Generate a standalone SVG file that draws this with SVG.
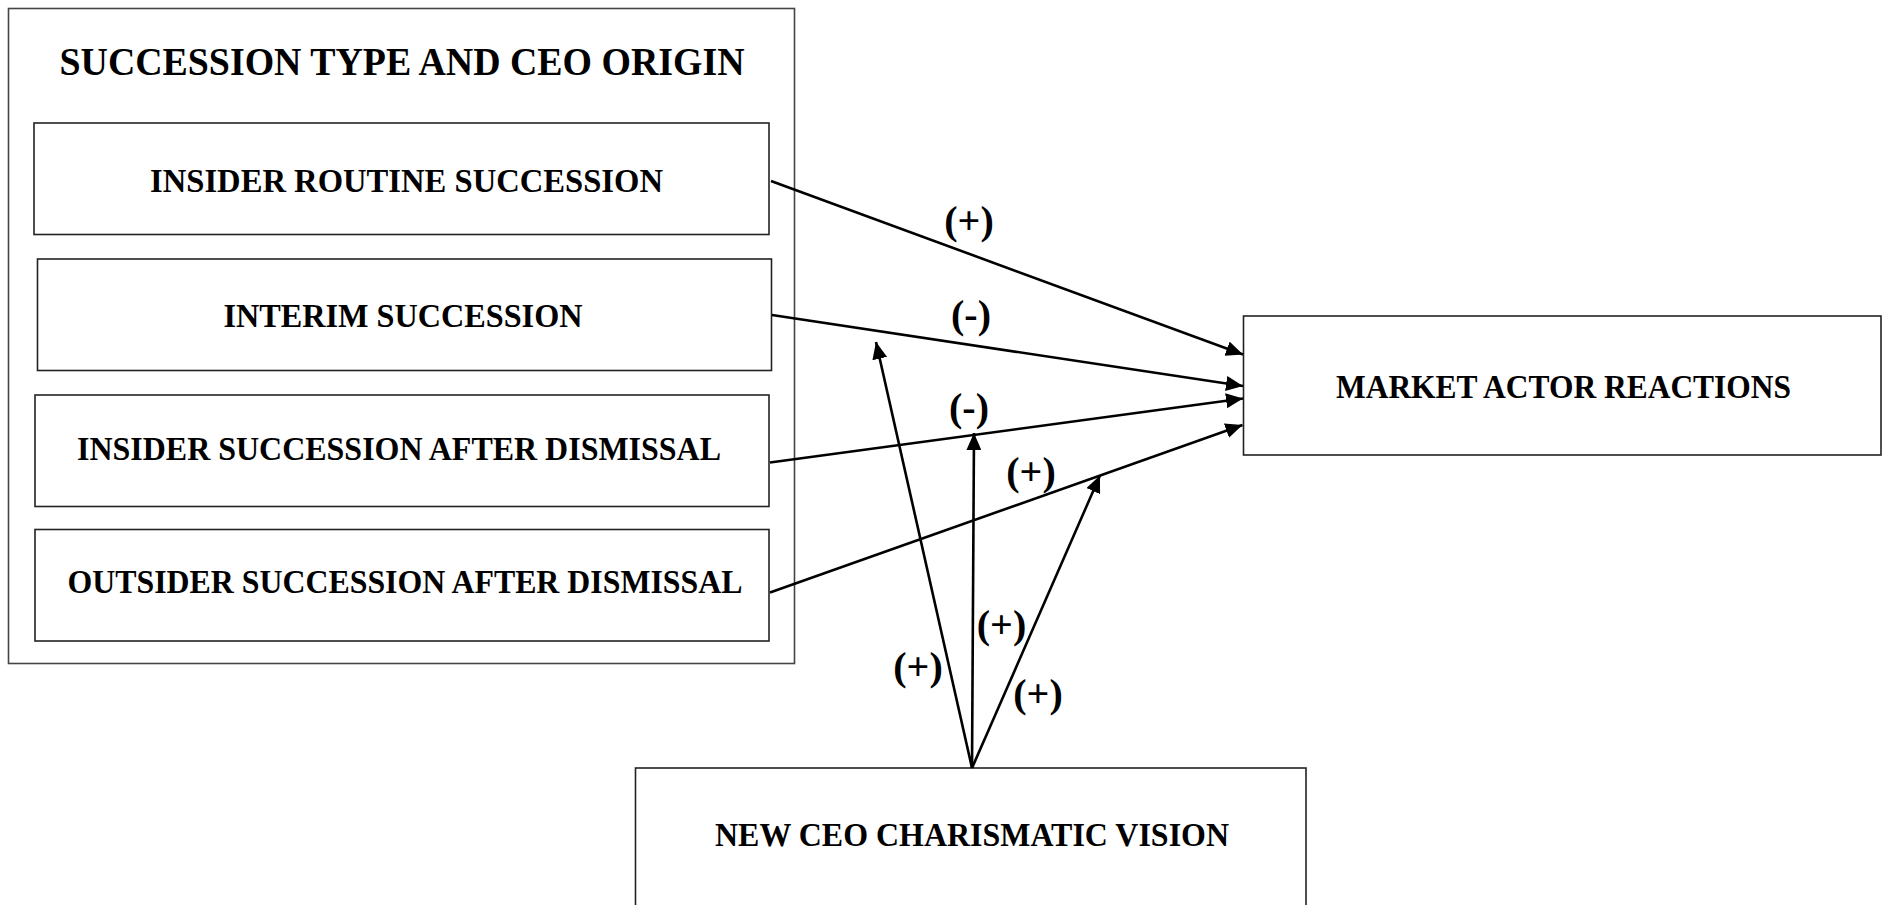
<svg xmlns="http://www.w3.org/2000/svg" width="1884" height="905" viewBox="0 0 1884 905">
<style>
.box{fill:#fff;stroke:#222;stroke-width:1.6}
.outer{fill:#fff;stroke:#444;stroke-width:1.6}
.t{font-family:"Liberation Serif","Times New Roman",serif;font-weight:bold;fill:#000;text-anchor:middle}
.bt{font-size:33px}
.tt{font-size:39px}
.lbl{font-size:40px}
.c{stroke:#000;stroke-width:2.6;fill:none;marker-end:url(#ah)}
</style>
<defs>
<marker id="ah" markerUnits="userSpaceOnUse" markerWidth="18" markerHeight="15" refX="17" refY="7.5" orient="auto">
<path d="M0,0 L17,7.5 L0,15 z" fill="#000"/>
</marker>
</defs>
<rect width="1884" height="905" fill="#fff"/>
<g id="group-succession">
<rect class="outer" x="8.5" y="8.5" width="786" height="655"/>
<text class="t tt" x="402" y="75" textLength="685" lengthAdjust="spacingAndGlyphs">SUCCESSION TYPE AND CEO ORIGIN</text>
</g>
<g id="node-insider-routine">
<rect class="box" x="34" y="123" width="735" height="111.5"/>
<text class="t bt" x="406.5" y="192" textLength="513" lengthAdjust="spacingAndGlyphs">INSIDER ROUTINE SUCCESSION</text>
</g>
<g id="node-interim">
<rect class="box" x="37.5" y="259" width="734" height="111.5"/>
<text class="t bt" x="403" y="327" textLength="359" lengthAdjust="spacingAndGlyphs">INTERIM SUCCESSION</text>
</g>
<g id="node-insider-dismissal">
<rect class="box" x="35" y="395" width="734" height="111.5"/>
<text class="t bt" x="399" y="460" textLength="644" lengthAdjust="spacingAndGlyphs">INSIDER SUCCESSION AFTER DISMISSAL</text>
</g>
<g id="node-outsider-dismissal">
<rect class="box" x="35" y="529.5" width="734" height="111.5"/>
<text class="t bt" x="405" y="592.5" textLength="675" lengthAdjust="spacingAndGlyphs">OUTSIDER SUCCESSION AFTER DISMISSAL</text>
</g>
<g id="node-market">
<rect class="box" x="1243.5" y="316" width="637.5" height="139"/>
<text class="t bt" x="1563.5" y="398" textLength="455" lengthAdjust="spacingAndGlyphs">MARKET ACTOR REACTIONS</text>
</g>
<g id="node-vision">
<rect class="box" x="635.5" y="768" width="670.5" height="160"/>
<text class="t bt" x="972" y="846" textLength="514" lengthAdjust="spacingAndGlyphs">NEW CEO CHARISMATIC VISION</text>
</g>
<g id="connectors">
<line class="c" x1="771" y1="181" x2="1243" y2="354.5"/>
<line class="c" x1="772" y1="315" x2="1243" y2="386"/>
<line class="c" x1="770" y1="462.5" x2="1243" y2="398.5"/>
<line class="c" x1="770" y1="592.5" x2="1242.5" y2="425"/>
<line class="c" x1="972" y1="768" x2="876" y2="342"/>
<line class="c" x1="972" y1="768" x2="974" y2="433"/>
<line class="c" x1="972" y1="768" x2="1100" y2="475.5"/>
<text class="t lbl" x="969" y="234">(+)</text>
<text class="t lbl" x="971" y="328">(-)</text>
<text class="t lbl" x="969" y="421">(-)</text>
<text class="t lbl" x="1031" y="485">(+)</text>
<text class="t lbl" x="918" y="680">(+)</text>
<text class="t lbl" x="1001.5" y="638">(+)</text>
<text class="t lbl" x="1038" y="707">(+)</text>
</g>
</svg>
